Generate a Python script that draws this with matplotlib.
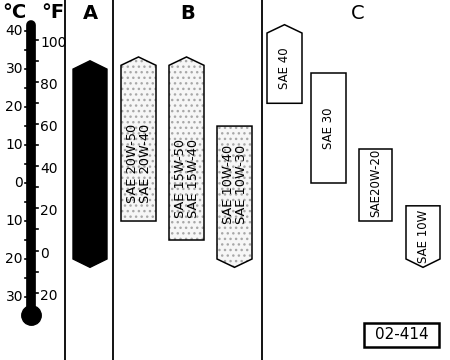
import matplotlib
matplotlib.use("Agg")
import matplotlib.pyplot as plt
from matplotlib.patches import Polygon, Rectangle

# ---- data ----
celsius_ticks = [40, 30, 20, 10, 0, -10, -20, -30]
celsius_labels = ["40", "30", "20", "10", "0", "10", "20", "30"]
fahrenheit_ticks = [100, 80, 60, 40, 20, 0, -20]
fahrenheit_labels = ["100", "80", "60", "40", "20", "0", "20"]

groups = ["A", "B", "C"]

oil_labels = ["", "SAE 20W-50\nSAE 20W-40", "SAE 15W-50\nSAE 15W-40",
              "SAE 10W-40\nSAE 10W-30", "SAE 40", "SAE 30", "SAE20W-20", "SAE 10W"]
oil_group = ["A", "B", "B", "B", "C", "C", "C", "C"]
oil_low = [-20, -10, -15, -20, 21, 0, -10, -20]
oil_high = [30, 31, 31, 15, 39.5, 29, 9, -6]
oil_arrow_top = [True, True, True, False, True, False, False, False]
oil_arrow_bottom = [True, False, False, True, False, False, False, True]

# ---- layout ----
fig = plt.figure(figsize=(4.5, 3.6), dpi=100)
ax = fig.add_axes([0, 0, 1, 1])
ax.set_xlim(0, 450)
ax.set_ylim(-46.6, 48.2)
ax.axis("off")

font = ["DejaVu Sans"]
x_centers = [90, 138.5, 186.5, 234.5, 284.5, 328.5, 375.5, 423]
widths = [34, 35, 35, 35, 35, 35, 33, 34]
text_y = [0, 5.3, 1.3, -0.3, 30.3, 14.5, 0, -14]
text_size = [10, 9.3, 9.3, 9.3, 8.5, 8.5, 8.5, 8.5]
tip = 2.2

for i, name in enumerate(oil_labels):
    xc, w = x_centers[i], widths[i]
    lo, hi = oil_low[i], oil_high[i]
    pts = []
    pts.append((xc - w / 2, lo))
    if oil_arrow_bottom[i]:
        pts.append((xc, lo - tip))
    pts.append((xc + w / 2, lo))
    pts.append((xc + w / 2, hi))
    if oil_arrow_top[i]:
        pts.append((xc, hi + tip))
    pts.append((xc - w / 2, hi))
    g = oil_group[i]
    if g == "A":
        ax.add_patch(Polygon(pts, closed=True, facecolor="black", edgecolor="black", lw=1))
    elif g == "B":
        ax.add_patch(Polygon(pts, closed=True, facecolor="#f6f6f6", edgecolor="#a8a8a8",
                             hatch="...", lw=0))
        ax.add_patch(Polygon(pts, closed=True, facecolor="none", edgecolor="black", lw=1.1))
    else:
        ax.add_patch(Polygon(pts, closed=True, facecolor="white", edgecolor="black", lw=1.1))
    if name:
        ax.text(xc + 0.5, text_y[i], name, rotation=90, ha="center", va="center",
                fontsize=text_size[i], family=font, linespacing=0.95, color="black")

# separators
for xs in [65, 113, 262]:
    ax.plot([xs, xs], [-46.6, 48.2], color="black", lw=1.3)

# group letters
for g, xg, fw in zip(groups, [90, 188, 358], ["bold", "bold", "normal"]):
    ax.text(xg, 44.6, g, ha="center", va="center", fontsize=14, family=font,
            fontweight=fw, color="black")
ax.text(14, 45.0, "°C", ha="center", va="center", fontsize=14, family=font, fontweight="bold")
ax.text(53, 45.0, "°F", ha="center", va="center", fontsize=14, family=font, fontweight="bold")

# thermometer
ax.plot([31, 31], [41.5, -34.5], color="black", lw=7, solid_capstyle="round")
ax.plot([30.5], [-34.8], marker="o", markersize=14, color="black")
for c in range(40, -35, -5):
    ax.plot([25, 30], [c, c], color="black", lw=1.2)
for f in range(100, -30, -10):
    cf = (f - 32) * 5 / 9
    ax.plot([31, 38], [cf, cf], color="black", lw=1.2)
for c, lab in zip(celsius_ticks, celsius_labels):
    ax.text(23, c, lab, ha="right", va="center", fontsize=10, family=font)
for f, lab in zip(fahrenheit_ticks, fahrenheit_labels):
    cf = (f - 32) * 5 / 9
    ax.text(40, cf - 0.8, lab, ha="left", va="center", fontsize=10, family=font)

# reference box
ax.add_patch(Rectangle((364, -43.2), 75, 6.4, facecolor="white", edgecolor="black", lw=1.8))
ax.text(401.5, -40.0, "02-414", ha="center", va="center", fontsize=11, family=font)

fig.savefig("out.png", dpi=100)
